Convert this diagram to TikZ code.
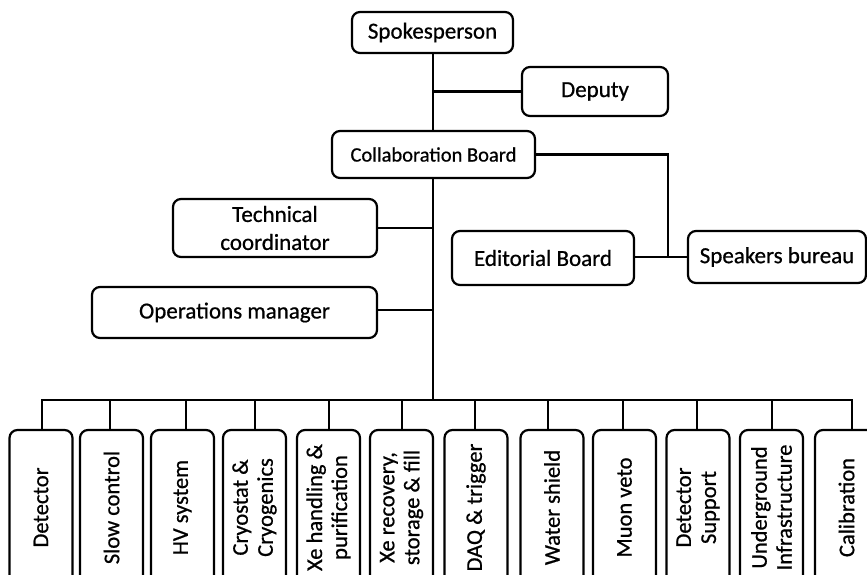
\documentclass[tikz,border=0pt]{standalone}
\usepackage{fontspec}
\setmainfont[FakeBold=0.7]{Carlito}
\begin{document}
\begin{tikzpicture}[x=1pt,y=-1pt,
  box/.style={draw, line width=2.2pt, rounded corners=8pt, inner sep=0pt, align=center,
    font=\fontsize{23}{28}\selectfont},
  vbox/.style={box, rotate=90, minimum width=155pt, minimum height=63pt,
    font=\fontsize{22.5}{25}\selectfont},
  wire/.style={line width=2.2pt}]
\useasboundingbox (0,0) rectangle (867,574);
\clip (0,0) rectangle (867,574);
% top part
\node[box, minimum width=161pt, minimum height=41pt] (sp) at (432.5,32.5) {Spokesperson};
\node[box, minimum width=146pt, minimum height=49pt] (dep) at (595,91.5) {Deputy};
\node[box, minimum width=203pt, minimum height=47pt, font=\fontsize{20.5}{24}\selectfont] (cb) at (433.5,154.5) {Collaboration Board};
\node[box, minimum width=204pt, minimum height=58pt] (tc) at (275,228) {Technical\\coordinator};
\node[box, minimum width=285pt, minimum height=51pt] (om) at (234.5,312.5) {Operations manager};
\node[box, minimum width=182pt, minimum height=54pt] (ed) at (543,258) {Editorial Board};
\node[box, minimum width=178pt, minimum height=52pt] (spk) at (777,257) {Speakers bureau};
% bottom boxes
\node[vbox] (b1) at (41,507.5) {Detector};
\node[vbox] (b2) at (111.5,507.5) {Slow control};
\node[vbox] (b3) at (182.5,507.5) {HV system};
\node[vbox] (b4) at (254.5,507.5) {Cryostat \&\\Cryogenics};
\node[vbox] (b5) at (328.5,507.5) {Xe handling \&\\purification};
\node[vbox] (b6) at (401.5,507.5) {Xe recovery,\\storage \& fill};
\node[vbox] (b7) at (476,507.5) {DAQ \& trigger};
\node[vbox] (b8) at (552,507.5) {Water shield};
\node[vbox] (b9) at (624.5,507.5) {Muon veto};
\node[vbox] (b10) at (698,507.5) {Detector\\Support};
\node[vbox] (b11) at (771.5,507.5) {Underground\\Infrastructure};
\node[vbox] (b12) at (846.5,507.5) {Calibration};
% junction coordinates
\coordinate (jd) at (433,91.5);
\coordinate (jes) at (668,257);
\coordinate (bus) at (433,400);
\coordinate (j1) at (42,400);
\coordinate (j2) at (110,400);
\coordinate (j3) at (186,400);
\coordinate (j4) at (255,400);
\coordinate (j5) at (329,400);
\coordinate (j6) at (402,400);
\coordinate (j7) at (475,400);
\coordinate (j8) at (548,400);
\coordinate (j9) at (623,400);
\coordinate (j10) at (697,400);
\coordinate (j11) at (772,400);
\coordinate (j12) at (852,400);
% connectors
\draw[wire] (sp.south -| jd) -- (cb.north -| jd);
\draw[wire] (jd) -- (dep.west);
\draw[wire] (cb.east) -| (jes);
\draw[wire] (ed.east |- jes) -- (spk.west);
\draw[wire] (cb.south -| bus) -- (bus);
\draw[wire] (tc.east) -- (tc.east -| bus);
\draw[wire] (om.east |- 0,310) -- (bus |- 0,310);
\draw[wire, line cap=rect] (j1) -- (j12);
\foreach \i in {1,...,12}{
  \draw[wire] (j\i) -- (j\i |- b\i.east);
}
\end{tikzpicture}
\end{document}
